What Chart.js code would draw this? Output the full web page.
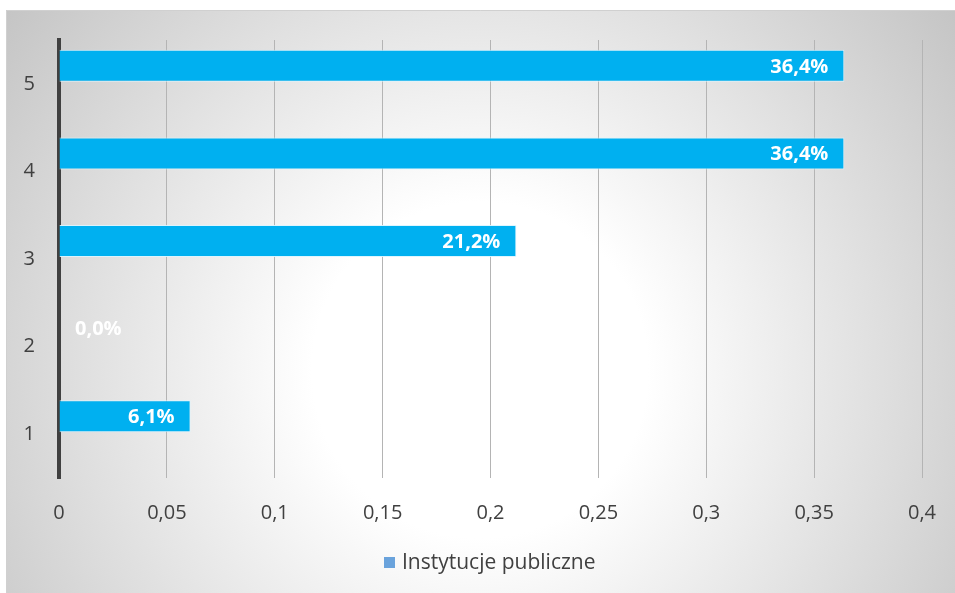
<!DOCTYPE html>
<html>
<head>
<meta charset="utf-8">
<script src="https://cdn.jsdelivr.net/npm/chart.js@4.4.0/dist/chart.umd.min.js"></script>
<style>
html,body{margin:0;padding:0;background:#ffffff;}
#wrap{position:relative;width:955px;height:593px;}
canvas{display:block;}
</style>
</head>
<body>
<div id="wrap"><canvas id="c" width="955" height="593"></canvas></div>
<script>
const categories = ['1', '2', '3', '4', '5'];
const values = [0.061, 0.0, 0.212, 0.364, 0.364];
const emptySeries = [null, null, null, null, null];
const valueLabels = ['6,1%', '0,0%', '21,2%', '36,4%', '36,4%'];
const xTicks = [0, 0.05, 0.1, 0.15, 0.2, 0.25, 0.3, 0.35, 0.4];
const seriesName = 'Instytucje publiczne';

const FONT = '"Open Sans", "Noto Sans", sans-serif';

const bgPlugin = {
  id: 'bg',
  beforeDraw(chart) {
    const ctx = chart.ctx;
    ctx.save();
    const g = ctx.createRadialGradient(480, 370, 0, 480, 370, 600);
    g.addColorStop(0, '#ffffff');
    g.addColorStop(0.28, '#ffffff');
    g.addColorStop(1, '#c4c4c4');
    ctx.fillStyle = g;
    ctx.fillRect(6, 10, 949, 583);
    ctx.strokeStyle = '#d0d0d0';
    ctx.lineWidth = 1;
    ctx.beginPath();
    ctx.moveTo(6.5, 593);
    ctx.lineTo(6.5, 10.5);
    ctx.lineTo(955, 10.5);
    ctx.stroke();
    ctx.restore();
  }
};

const labelPlugin = {
  id: 'vlabels',
  afterDatasetsDraw(chart) {
    const ctx = chart.ctx;
    const meta = chart.getDatasetMeta(0);
    ctx.save();
    ctx.font = 'bold 20px ' + FONT;
    ctx.fillStyle = '#ffffff';
    ctx.textBaseline = 'middle';
    meta.data.forEach((bar, i) => {
      const txt = valueLabels[i];
      const w = ctx.measureText(txt).width;
      const base = bar.base;
      if (bar.x - base > w + 20) {
        ctx.textAlign = 'right';
        ctx.fillText(txt, bar.x - 16, bar.y + 1);
      } else {
        ctx.textAlign = 'left';
        ctx.fillText(txt, base + 16, bar.y + 1);
      }
    });
    ctx.restore();
  }
};

const legendPlugin = {
  id: 'customLegend',
  afterDraw(chart) {
    const ctx = chart.ctx;
    ctx.save();
    ctx.font = '21px ' + FONT;
    const label = chart.data.datasets[0].label;
    const x0 = 384;
    const cy = 563;
    ctx.fillStyle = '#6aa3dc';
    ctx.fillRect(x0, cy - 6, 11, 11);
    ctx.fillStyle = '#404040';
    ctx.textBaseline = 'middle';
    ctx.textAlign = 'left';
    ctx.fillText(label, x0 + 18, cy);
    ctx.restore();
  }
};

new Chart(document.getElementById('c'), {
  type: 'bar',
  data: {
    labels: categories,
    datasets: [{
      label: seriesName,
      data: values,
      backgroundColor: '#00b0f0',
      borderColor: 'rgba(220,245,255,0.9)',
      borderWidth: 1,
      borderSkipped: 'start',
      categoryPercentage: 0.822,
      barPercentage: 1.0,
      maxBarThickness: 32
    }, {
      label: '',
      data: emptySeries,
      backgroundColor: 'rgba(0,0,0,0)',
      categoryPercentage: 0.822,
      barPercentage: 1.0,
      maxBarThickness: 32
    }]
  },
  options: {
    indexAxis: 'y',
    responsive: false,
    animation: false,
    layout: { padding: { top: 40, right: 33, left: 0, bottom: 0 } },
    plugins: {
      legend: { display: false },
      tooltip: { enabled: false }
    },
    scales: {
      x: {
        type: 'linear',
        min: 0,
        max: 0.4,
        afterBuildTicks(scale) { scale.ticks = xTicks.map(v => ({ value: v })); },
        afterFit(scale) { scale.height = 115; scale.paddingLeft = 0; scale.paddingRight = 0; },
        ticks: {
          padding: 23,
          color: '#404040',
          font: { family: FONT, size: 20 },
          callback: (v) => String(v).replace('.', ','),
          maxRotation: 0
        },
        grid: { color: '#b4b4b4', lineWidth: 1, drawTicks: false },
        border: { display: false }
      },
      y: {
        reverse: true,
        afterFit(scale) { scale.width = 59; scale.paddingTop = 0; scale.paddingBottom = 0; },
        ticks: {
          padding: 24,
          color: '#404040',
          font: { family: FONT, size: 20 }
        },
        grid: { display: false, drawTicks: false },
        border: { display: true, color: '#404040', width: 4 }
      }
    }
  },
  plugins: [bgPlugin, labelPlugin, legendPlugin]
});
</script>
</body>
</html>
